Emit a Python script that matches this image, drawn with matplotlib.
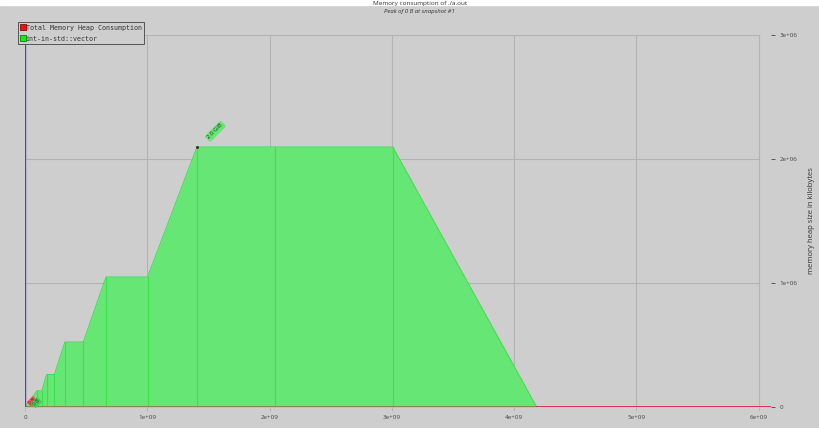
import matplotlib.pyplot as plt
from matplotlib.lines import Line2D

# snapshot times (instructions) and heap size (kB) per snapshot
times = [0, 0.098e9, 0.137e9, 0.177e9, 0.240e9, 0.327e9, 0.477e9, 0.662e9,
         1.002e9, 1.406e9, 2.041e9, 3.007e9, 4.184e9, 6.1e9]
vector_kb = [0, 131072, 131072, 262144, 262144, 524288, 524288, 1048576,
             1048576, 2097152, 2097152, 2097152, 0, 0]
total_kb = [0] * len(times)

xticks = [0, 1e9, 2e9, 3e9, 4e9, 5e9, 6e9]
xtick_labels = ["0", "1e+09", "2e+09", "3e+09", "4e+09", "5e+09", "6e+09"]
yticks = [0, 1e6, 2e6, 3e6]
ytick_labels = ["0", "1e+06", "2e+06", "3e+06"]

bg = "#cecece"
green = "#66e675"
green_edge = "#3fdf4d"
red = "#d8203c"
grid_c = "#b3b3b3"

plt.rcParams["font.family"] = ["Open Sans", "DejaVu Sans"]

fig = plt.figure(figsize=(8.2, 4.28), dpi=100, facecolor=bg)
ax = fig.add_axes([25 / 820, 21 / 428, 746 / 820, 372 / 428])
ax.set_facecolor(bg)

# white strip along the top edge
fig.patches.append(plt.Rectangle((0, 1 - 5 / 428), 1, 5 / 428,
                                 transform=fig.transFigure, color="white", zorder=0))

# grid
for x in xticks:
    ax.plot([x, x], [0, 3e6], color=grid_c, lw=0.8, zorder=1)
for y in yticks:
    ax.plot([0, 6.0e9], [y, y], color=grid_c, lw=0.8, zorder=1)

# stacked area for the vector allocations
last = max(i for i, v in enumerate(vector_kb) if v > 0) + 1
ax.fill_between(times, vector_kb, 0, color=green, lw=0, zorder=3)
ax.plot(times[:last + 1], vector_kb[:last + 1], color=green_edge, lw=0.7, zorder=4)
for t, v in zip(times, vector_kb):
    if v > 0:
        ax.plot([t, t], [0, v], color=green_edge, lw=0.8, zorder=4)

# total heap line
ax.plot(times[:last + 1], total_kb[:last + 1], color="#8a7a50", lw=1.2, zorder=5)
ax.plot(times[last:], total_kb[last:], color=red, lw=1.2, zorder=5)

# left axis line
ax.plot([0, 0], [0, 3e6], color="#4848b8", lw=1.0, zorder=6)

# peak labels
pk = vector_kb.index(max(vector_kb))
ax.plot(times[pk], vector_kb[pk], "o", ms=1.2, color="#333333", zorder=6)
ax.annotate("2.0 GiB", (times[pk], vector_kb[pk]), xytext=(7, 5),
            textcoords="offset points", rotation=45, fontsize=4.3,
            color="#1e3c1e", ha="left", va="bottom", zorder=7,
            bbox=dict(boxstyle="round,pad=0.25", fc=green, ec="none"))
ax.annotate("0 B", (times[1] * 0.6, 45000), xytext=(0, 0),
            textcoords="offset points", rotation=45, fontsize=3.5,
            color="#5a1010", ha="center", va="center", zorder=7,
            bbox=dict(boxstyle="round,pad=0.2", fc="#e8605a", ec="none"))
ax.annotate("0 B", (times[1] * 0.95, 35000), xytext=(0, 0),
            textcoords="offset points", rotation=45, fontsize=3.5,
            color="#1e3c1e", ha="center", va="center", zorder=7,
            bbox=dict(boxstyle="round,pad=0.2", fc="#4fc85a", ec="none"))

ax.set_xlim(0, 6.1e9)
ax.set_ylim(0, 3e6)
ax.set_xticks(xticks)
ax.set_xticklabels(xtick_labels)
ax.set_yticks(yticks)
ax.set_yticklabels(ytick_labels)
ax.yaxis.tick_right()
ax.yaxis.set_label_position("right")
ax.tick_params(axis="both", labelsize=4.5, colors="#444444", length=3,
               width=0.6, pad=3)
ax.tick_params(axis="x", color=grid_c)
ax.set_ylabel("memory heap size in kilobytes", fontsize=5.5, color="#333333",
              labelpad=8)

for s in ax.spines.values():
    s.set_visible(False)

# title and subtitle
fig.text(0.512, 1 - 3.5 / 428, "Memory consumption of ./a.out", ha="center",
         va="center", fontsize=4.6, color="#333333")
fig.text(0.512, 1 - 12 / 428, "Peak of 0 B at snapshot #1", ha="center",
         va="center", fontsize=4.3, style="italic", color="#333333")

handles = [
    Line2D([], [], marker="s", ls="none", ms=5, mfc="#ee1010", mec="#801010", mew=0.6),
    Line2D([], [], marker="s", ls="none", ms=5, mfc="#10ee10", mec="#108010", mew=0.6),
]
leg = fig.legend(handles, ["Total Memory Heap Consumption", "int-in-std::vector"],
                 loc="upper left", bbox_to_anchor=(18 / 820, 1 - 22 / 428),
                 prop={"family": "DejaVu Sans Mono", "size": 4.8},
                 handlelength=0.6, handletextpad=0.15, borderpad=0.4,
                 labelspacing=0.75, borderaxespad=0, fancybox=False,
                 framealpha=1, facecolor=bg, edgecolor="#555555")
leg.get_frame().set_linewidth(0.7)
for txt in leg.get_texts():
    txt.set_color("#333333")

fig.savefig("out.png", dpi=100, facecolor=bg)
